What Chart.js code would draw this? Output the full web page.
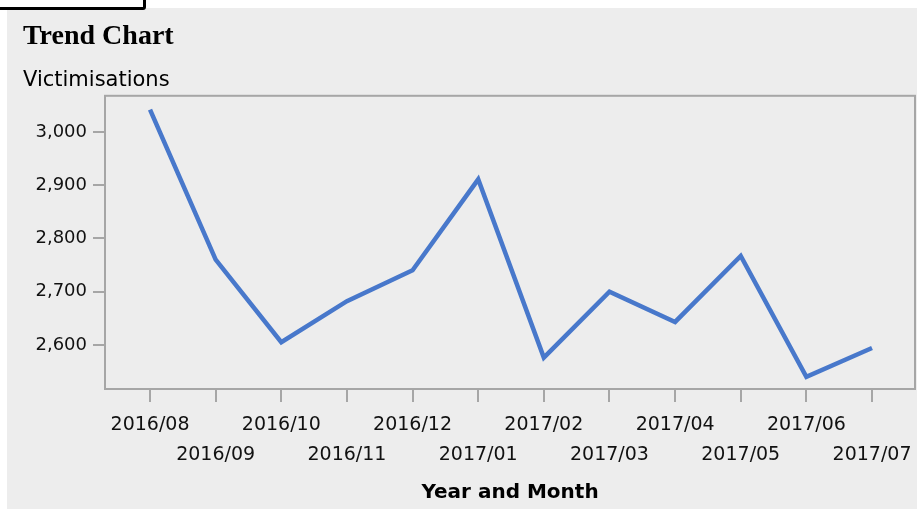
<!DOCTYPE html>
<html>
<head>
<meta charset="utf-8">
<script src="https://cdn.jsdelivr.net/npm/chart.js@4"></script>
<style>
    body { margin: 0; background: #fff; width: 917px; height: 509px; overflow: hidden; position: relative; }
    #panel { position: absolute; left: 7px; top: 8px; width: 910px; height: 501px; background: #ededed; }
    #tab { position: absolute; left: -4px; top: -20px; width: 150px; height: 30px; box-sizing: border-box;
           border: 3px solid #000; border-radius: 3px; z-index: 2; }
</style>
</head>
<body>
<div id="tab"></div>
<div id="panel"><canvas id="chartCanvas"></canvas></div>
<script>
// values
const months = ['2016/08', '2016/09', '2016/10', '2016/11', '2016/12', '2017/01',
                '2017/02', '2017/03', '2017/04', '2017/05', '2017/06', '2017/07'];
const victimisations = [3042, 2760, 2605, 2682, 2740, 2911, 2576, 2700, 2643, 2767, 2540, 2594];
const yMin = 2517;
const yMax = 3068;
const yStep = 100;

const frameColor = '#a6a6a6';

// box round the plot area
const plotFrame = {
    id: 'plotFrame',
    beforeDatasetsDraw(chart){
        const {ctx, chartArea: a} = chart;
        ctx.save();
        ctx.strokeStyle = frameColor;
        ctx.lineWidth = 2;
        ctx.strokeRect(a.left, a.top, a.right - a.left, a.bottom - a.top);
        ctx.restore();
    }
};

new Chart(document.getElementById('chartCanvas'), {
    type: 'line',
    data: {
        datasets: [{
            label: 'Victimisations',
            data: victimisations.map((v, i) => ({x: i, y: v})),
            borderColor: '#4878cb',
            borderWidth: 4.5,
            pointRadius: 0,
            tension: 0,
            fill: false
        }]
    },
    options: {
        responsive: true,
        maintainAspectRatio: false,
        animation: false,
        layout: { padding: { left: 16, right: 2, top: 0, bottom: 0 } },
        plugins: {
            legend: { display: false },
            tooltip: { enabled: false },
            title: {
                display: true,
                text: 'Trend Chart',
                align: 'start',
                color: '#000',
                font: { family: '"Liberation Serif", "DejaVu Serif", serif', size: 28, weight: 'bold', lineHeight: 1.2 },
                padding: { top: 12, bottom: 0 }
            },
            subtitle: {
                display: true,
                text: 'Victimisations',
                align: 'start',
                color: '#000',
                font: { family: '"DejaVu Sans", sans-serif', size: 21, lineHeight: 1.2 },
                padding: { top: 14, bottom: 3 }
            }
        },
        scales: {
            x: {
                type: 'linear',
                min: -0.686,
                max: 11.655,
                afterBuildTicks: axis => { axis.ticks = months.map((m, i) => ({value: i})); },
                // labels fit inside the frame margins, keep the plot edge where it is
                afterFit: scale => { scale.paddingLeft = 0; scale.paddingRight = 0; },
                border: { display: false },
                grid: { drawOnChartArea: false, drawTicks: true, tickLength: 13, color: frameColor, lineWidth: 2 },
                ticks: {
                    autoSkip: false,
                    maxRotation: 0,
                    minRotation: 0,
                    padding: 8,
                    color: '#111',
                    font: { family: '"DejaVu Sans", sans-serif', size: 19, lineHeight: 1.579 },
                    callback: v => (v % 2 === 0 ? [months[v]] : ['', months[v]])
                },
                title: {
                    display: true,
                    text: 'Year and Month',
                    color: '#000',
                    font: { family: '"DejaVu Sans", sans-serif', size: 20, weight: 'bold', lineHeight: 1.2 },
                    padding: { top: 3, bottom: 4 }
                }
            },
            y: {
                min: yMin,
                max: yMax,
                afterFit: scale => { scale.width = 82; },
                border: { display: false },
                grid: { drawOnChartArea: false, drawTicks: true, tickLength: 12, color: frameColor, lineWidth: 2 },
                ticks: {
                    stepSize: yStep,
                    includeBounds: false,
                    padding: 6,
                    color: '#111',
                    font: { family: '"DejaVu Sans", sans-serif', size: 18 },
                    callback: v => v.toLocaleString('en-US')
                }
            }
        }
    },
    plugins: [plotFrame]
});
</script>
</body>
</html>
